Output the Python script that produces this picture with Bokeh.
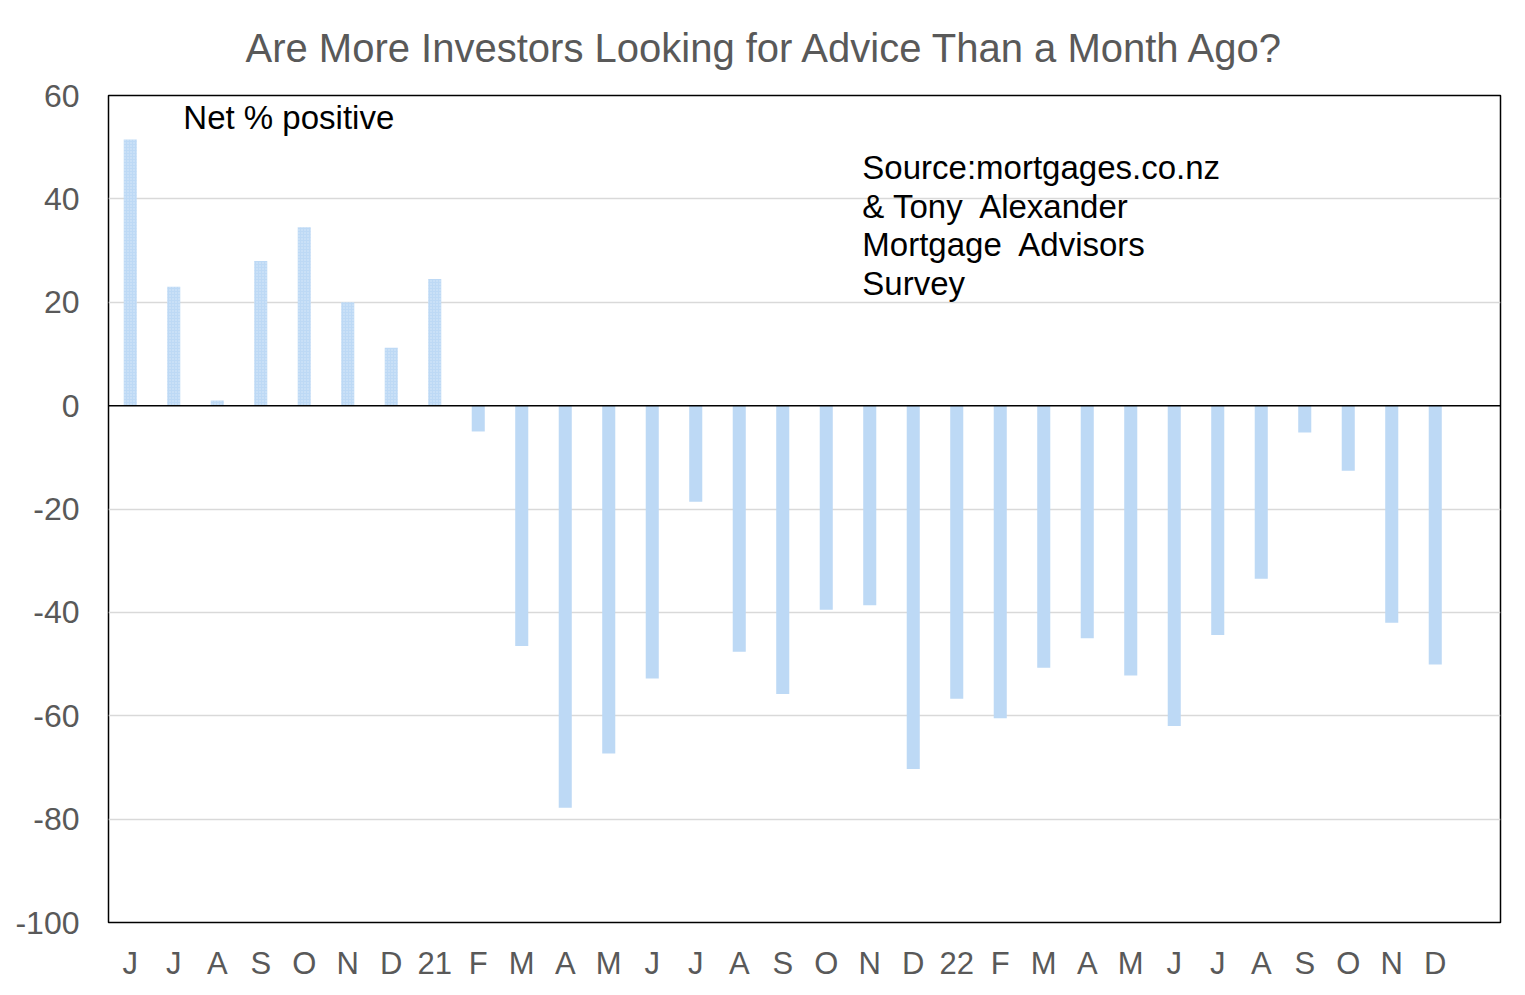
from bokeh.plotting import figure
from bokeh.models import Range1d, FixedTicker, Span, Label, ColumnDataSource, PrintfTickFormatter
from bokeh.embed import file_html
from bokeh.resources import INLINE

# ---- data ----
months = ["J", "J", "A", "S", "O", "N", "D", "21", "F", "M", "A", "M", "J", "J", "A", "S",
          "O", "N", "D", "22", "F", "M", "A", "M", "J", "J", "A", "S", "O", "N", "D"]
net_positive = [51.5, 23.0, 1.0, 28.0, 34.5, 20.0, 11.2, 24.5, -5.0, -46.5, -77.8, -67.3,
                -52.8, -18.6, -47.6, -55.8, -39.5, -38.6, -70.3, -56.7, -60.5, -50.7,
                -45.0, -52.2, -62.0, -44.4, -33.5, -5.2, -12.6, -42.0, -50.1]
n_hatched = 8
y_ticks = [60, 40, 20, 0, -20, -40, -60, -80, -100]
title_text = "Are More Investors Looking for Advice Than a Month Ago?"
note_text = "Net % positive"
source_lines = ["Source:mortgages.co.nz", "& Tony\u00a0 Alexander", "Mortgage\u00a0 Advisors", "Survey"]

FONT = "Liberation Sans"
GRAY = "#595959"
BAR = "#BDD9F5"

n_slots = len(months) + 1  # one empty slot at the right end

p = figure(width=1510, height=983, output_backend="svg", toolbar_location=None,
           x_range=Range1d(-0.5, n_slots - 0.5), y_range=Range1d(-100, 60),
           min_border_left=108, min_border_right=10, min_border_top=95, min_border_bottom=61)

idx = list(range(len(months)))
src_a = ColumnDataSource(dict(x=idx[:n_hatched], top=net_positive[:n_hatched]))
src_b = ColumnDataSource(dict(x=idx[n_hatched:], top=net_positive[n_hatched:]))
p.vbar(x="x", top="top", bottom=0, width=0.3, source=src_a, fill_color=BAR, line_color=None,
       hatch_pattern="dot", hatch_color="white", hatch_alpha=0.45, hatch_scale=3)
p.vbar(x="x", top="top", bottom=0, width=0.3, source=src_b, fill_color=BAR, line_color=None)

p.add_layout(Span(location=0, dimension="width", line_color="black", line_width=1.5))

# title
p.title.text = title_text
p.title.text_font = FONT
p.title.text_font_size = "40px"
p.title.text_font_style = "normal"
p.title.text_color = GRAY
p.title.align = "left"
p.title.vertical_align = "top"
p.title.offset = 137
p.title.standoff = 48

# axes
p.xaxis.ticker = FixedTicker(ticks=idx)
p.xaxis.major_label_overrides = {i: m for i, m in enumerate(months)}
p.yaxis.ticker = FixedTicker(ticks=y_ticks)
p.yaxis.formatter = PrintfTickFormatter(format="%d")
for ax in (p.xaxis[0], p.yaxis[0]):
    ax.axis_line_color = None
    ax.major_tick_line_color = None
    ax.minor_tick_line_color = None
    ax.major_label_text_font = FONT
    ax.major_label_text_color = GRAY
p.xaxis.major_label_text_font_size = "31px"
p.yaxis.major_label_text_font_size = "32px"
p.xaxis.major_label_standoff = 17
p.yaxis.major_label_standoff = 23

p.xgrid.grid_line_color = None
p.ygrid.ticker = FixedTicker(ticks=[40, 20, -20, -40, -60, -80])
p.ygrid.grid_line_color = "#D9D9D9"
p.ygrid.grid_line_width = 1.5

p.outline_line_color = "black"
p.outline_line_width = 1.5
p.outline_line_alpha = 1.0

# annotations
p.add_layout(Label(x=1.22, y=55.7, text=note_text, text_font=FONT, text_font_size="33px",
                   text_color="black", text_baseline="alphabetic"))
line_y = [46.0, 38.5, 31.1, 23.6]
for t, yy in zip(source_lines, line_y):
    p.add_layout(Label(x=16.83, y=yy, text=t, text_font=FONT, text_font_size="33px",
                       text_color="black", text_baseline="alphabetic"))

open("out.html", "w").write(file_html(p, INLINE))
